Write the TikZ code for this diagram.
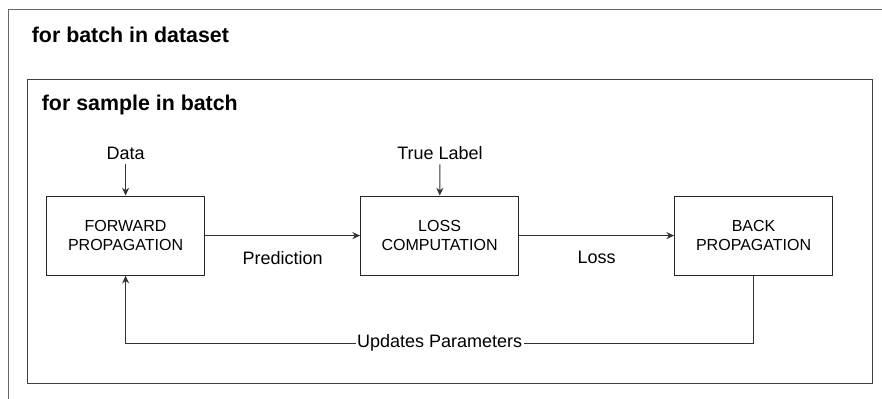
\documentclass[tikz,border=0pt]{standalone}
\usepackage{fontspec}
\setmainfont{Liberation Sans}
\usetikzlibrary{arrows.meta}

\begin{document}
\begin{tikzpicture}[
    stage/.style={draw=black!85,line width=0.7pt,minimum width=3.95cm,minimum height=1.98cm,align=center,font=\fontsize{11.4}{13.5}\selectfont},
    lbl/.style={font=\fontsize{12.8}{15}\selectfont},
    loophead/.style={anchor=base west,inner sep=0pt,font=\fontsize{15.2}{18}\selectfont\bfseries},
    flow/.style={draw=black!80,line width=0.7pt,-{Stealth[length=5.5pt,width=5pt]}}
]
    \useasboundingbox (0,0) rectangle (22.05,9.95);
    \clip (0,0) rectangle (22.05,9.95);
    % outer loop, runs off the page
    \draw [black!60,line width=0.7pt] (0.2,-1) -- (0.2,9.725) -- (23,9.725);
    \node [loophead] (batchloop) at (0.79,8.88) {for batch in dataset};
    % inner loop
    \draw [black!75,line width=0.7pt] (0.675,0.375) rectangle (21.8,7.975);
    \node [loophead] (sampleloop) at (1.04,7.2) {for sample in batch};

    \coordinate (F) at (3.14,4.06);
    \coordinate (L) at (10.99,4.06);
    \coordinate (B) at (18.84,4.06);
    \node [stage] (fwd) at (F) {FORWARD\\PROPAGATION};
    \node [stage] (loss) at (L) {LOSS\\COMPUTATION};
    \node [stage] (back) at (B) {BACK\\PROPAGATION};

    \node [lbl,anchor=base] (data) at (3.14,5.967) {Data};
    \node [lbl,anchor=base] (truelabel) at (11.0,5.967) {True Label};
    \draw [flow] (data) -- (fwd);
    \draw [flow] (truelabel) -- (loss);

    \draw [flow] (fwd) -- node [lbl,below=0.27cm] {Prediction} (loss);
    \draw [flow] (loss) -- node [lbl,below=0.27cm] {Loss} (back);

    \coordinate (fb) at (18.84,1.375);
    \draw [flow] (back.south) -- (fb) -| node [lbl,fill=white,inner sep=1pt,pos=0.25] (upd) {Updates Parameters} (fwd.south);
\end{tikzpicture}
\end{document}
